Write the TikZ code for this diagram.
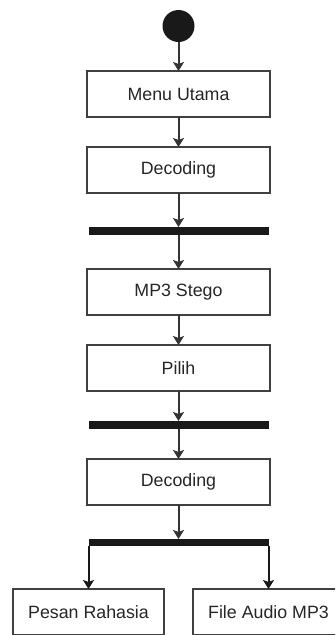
\documentclass[tikz,border=0pt]{standalone}
\usepackage{fontspec}
\setmainfont{Liberation Sans}
\usetikzlibrary{positioning,arrows.meta}

\begin{document}
\begin{tikzpicture}[x=1pt,y=-1pt,>={Stealth[length=9pt,width=11pt,inset=2pt]},node distance=30pt,line width=2pt,
    act node/.style={draw=black!75,line width=1.6pt,outer sep=0pt,minimum width=183pt,minimum height=46pt,inner sep=0pt,text=black!85,font=\fontsize{17.8}{20}\selectfont},
    bar node/.style={fill=black!90,outer sep=0pt,minimum width=180pt,minimum height=8pt,inner sep=0pt}]

            \clip (0,0) rectangle (335,635);

            \node[circle, fill=black!90, outer sep=0pt, minimum size=32pt, inner sep=0pt] (1) at (178.5,26) {};
            \node[act node] (2) [below=29pt of 1] {Menu Utama};
            \node[act node] (3) [below=of 2] {Decoding};
            \node[bar node] (4) [below=34pt of 3] {};
            \node[act node] (5) [below=34pt of 4] {MP3 Stego};
            \node[act node] (6) [below=of 5] {Pilih};
            \node[bar node] (7) [below=30pt of 6] {};
            \node[act node] (8) [below=of 7] {Decoding};
            \node[bar node, minimum height=7pt] (9) [below=34pt of 8] {};
            \node[act node, minimum width=151pt] (10) [below=43pt of 9.south west] {Pesan Rahasia};
            \node[act node, minimum width=151pt] (11) [below=43pt of 9.south east] {File Audio MP3};

            \draw[->, black!80] (1) to (2);
            \draw[->, black!80] (2) to (3);
            \draw[->, black!80] (3) to (4);
            \draw[->, black!80] (4) to (5);
            \draw[->, black!80] (5) to (6);
            \draw[->, black!80] (6) to (7);
            \draw[->, black!80] (7) to (8);
            \draw[->, black!80] (8) to (9);
            \draw[->, black!90] (9.south west) to (10);
            \draw[->, black!90] (9.south east) to (11);

            ;
        \end{tikzpicture}
\end{document}
